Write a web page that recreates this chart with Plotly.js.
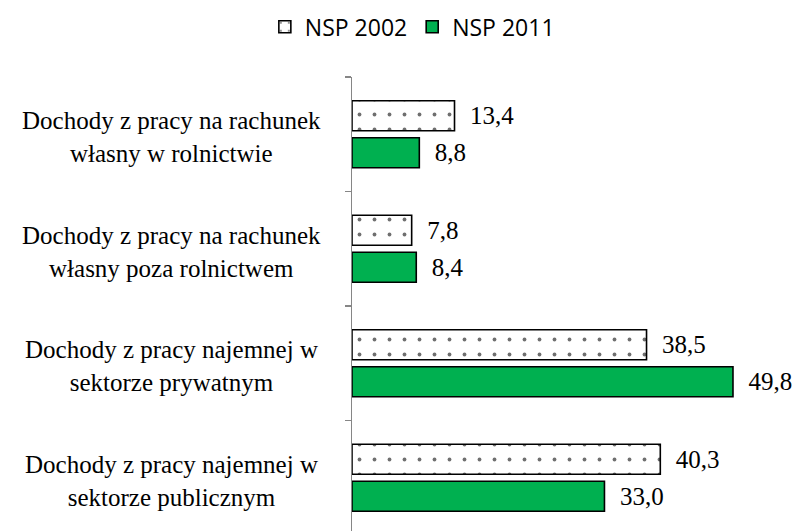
<!DOCTYPE html>
<html>
<head>
<meta charset="utf-8">
<script src="https://cdn.plot.ly/plotly-3.0.1.min.js"></script>
<style>
html,body{margin:0;padding:0;background:#fff;}
#chart{width:799px;height:531px;}
#chart .annotation-text, #chart .bartext, #chart .bartext tspan, #chart .annotation-text tspan {
  font-family: "Liberation Serif", "Times New Roman", "DejaVu Serif", serif !important;
}
</style>
</head>
<body>
<div id="chart"></div>
<script>
const categories = [
  "Dochody z pracy na rachunek<br>własny w rolnictwie",
  "Dochody z pracy na rachunek<br>własny poza rolnictwem",
  "Dochody z pracy najemnej w<br>sektorze prywatnym",
  "Dochody z pracy najemnej w<br>sektorze publicznym"
];
const catKeys = ["k1", "k2", "k3", "k4"];
const series2002 = [13.4, 7.8, 38.5, 40.3];
const series2011 = [8.8, 8.4, 49.8, 33.0];
const seriesNames = ["NSP 2002", "NSP 2011"];

const fam = "Times New Roman";
const valueFont = {family: fam, size: 25, color: "#000"};

const traces = [
  {
    type: "bar", orientation: "h", name: seriesNames[0],
    y: catKeys, x: series2002,
    marker: {color: "#ffffff", line: {color: "#000", width: 1.6},
             pattern: {shape: ".", fgcolor: "#6f6f6f", bgcolor: "#ffffff", size: 15, solidity: 0.05}},
    texttemplate: "\u00a0\u00a0%{x:.1f}", textposition: "outside",
    textfont: valueFont, cliponaxis: false, constraintext: "none", hoverinfo: "skip"
  },
  {
    type: "bar", orientation: "h", name: seriesNames[1],
    y: catKeys, x: series2011,
    marker: {color: "#00b050", line: {color: "#000", width: 1.6}},
    texttemplate: "\u00a0\u00a0%{x:.1f}", textposition: "outside",
    textfont: valueFont, cliponaxis: false, constraintext: "none", hoverinfo: "skip"
  }
];

const annotations = catKeys.map((k, i) => ({
  xref: "paper", yref: "y", x: -0.4027, y: k,
  xanchor: "center", yanchor: "middle", align: "center",
  text: categories[i], showarrow: false, yshift: -3,
  font: {family: fam, size: 25, color: "#000"}
}));

const layout = {
  width: 799, height: 531,
  margin: {l: 352, r: 0, t: 77, b: 0},
  paper_bgcolor: "#fff", plot_bgcolor: "#fff",
  separators: ", ",
  barmode: "group", bargap: 0.354, bargroupgap: 0.19,
  showlegend: true,
  legend: {orientation: "h", xref: "paper", x: 0.135, xanchor: "center",
           yref: "container", y: 0.99, yanchor: "top",
           font: {size: 23, color: "#000"},
           traceorder: "normal", itemclick: false},
  xaxis: {range: [0, 58.43], showgrid: false, zeroline: false, showline: false,
          showticklabels: false, ticks: "", fixedrange: true},
  yaxis: {type: "category", range: [3.465, -0.5], showgrid: false, zeroline: false,
          showline: true, linecolor: "#868686", linewidth: 1.5,
          ticks: "outside", tickson: "boundaries", ticklen: 6, tickcolor: "#868686", tickwidth: 1.5,
          showticklabels: false, fixedrange: true},
  annotations: annotations
};

Plotly.newPlot("chart", traces, layout, {staticPlot: true, displayModeBar: false});
</script>
</body>
</html>
